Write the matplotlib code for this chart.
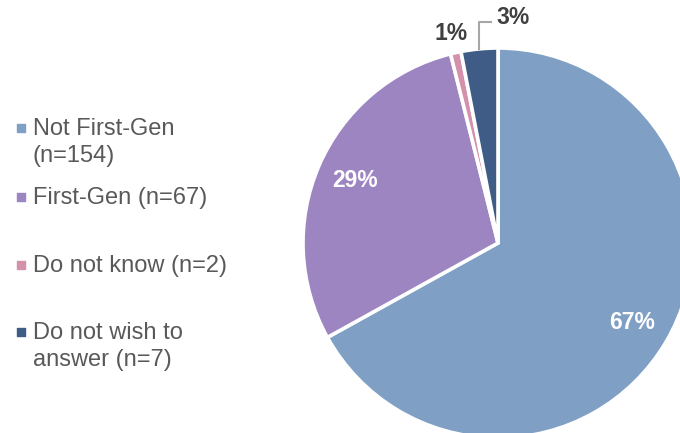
import numpy as np
import matplotlib.pyplot as plt

plt.rcParams['font.family'] = ['Liberation Sans', 'DejaVu Sans']

# datos del grafico
categorias = ["Not First-Gen\n(n=154)", "First-Gen (n=67)", "Do not know (n=2)", "Do not wish to\nanswer (n=7)"]
conteos = [154, 67, 2, 7]
colores = ["#7F9FC5", "#9D85C1", "#D391AB", "#3E5C86"]

total = sum(conteos)
porcentajes = [round(c / total * 100) for c in conteos]

fig = plt.figure(figsize=(6.8, 4.33), dpi=100)
ax = fig.add_axes([0, 0, 1, 1])

cx, cy, R = 498, 190, 195
wedges, _ = ax.pie(conteos, colors=colores, startangle=90, counterclock=False,
                   center=(cx, cy), radius=R,
                   wedgeprops=dict(edgecolor="white", linewidth=2.6))
ax.set_xlim(0, 680)
ax.set_ylim(0, 433)
ax.set_aspect("equal")
ax.axis("off")

# etiquetas de porcentaje
for i, w in enumerate(wedges):
    ang = np.deg2rad((w.theta1 + w.theta2) / 2)
    txt = f"{porcentajes[i]}%"
    if porcentajes[i] >= 10:
        x = cx + 0.80 * R * np.cos(ang)
        y = cy + 0.80 * R * np.sin(ang)
        ax.text(x, y, txt, color="white", fontsize=16.5, fontweight="bold",
                ha="center", va="center")
    elif i == 2:
        x = cx + 1.10 * R * np.cos(ang)
        y = cy + 1.10 * R * np.sin(ang)
        ax.text(x, y, txt, color="#404040", fontsize=16.5, fontweight="bold",
                ha="center", va="center")
    else:
        x0 = cx + R * np.cos(ang)
        y0 = cy + R * np.sin(ang)
        ax.plot([x0, x0, x0 + 12], [y0, 411, 411], color="#A6A6A6", lw=1.5,
                clip_on=False)
        ax.text(x0 + 17, 415, txt, color="#404040", fontsize=16.5,
                fontweight="bold", ha="left", va="center")

# leyenda manual
leg_y = [128, 197, 265, 332]
for i, lab in enumerate(categorias):
    yy = 433 - leg_y[i]
    ax.scatter([21], [yy], marker="s", s=30, color=colores[i], clip_on=False)
    ax.text(33, yy + 10, lab, color="#595959", fontsize=17, ha="left",
            va="top", linespacing=1.32)

fig.savefig("out.png", dpi=100)
